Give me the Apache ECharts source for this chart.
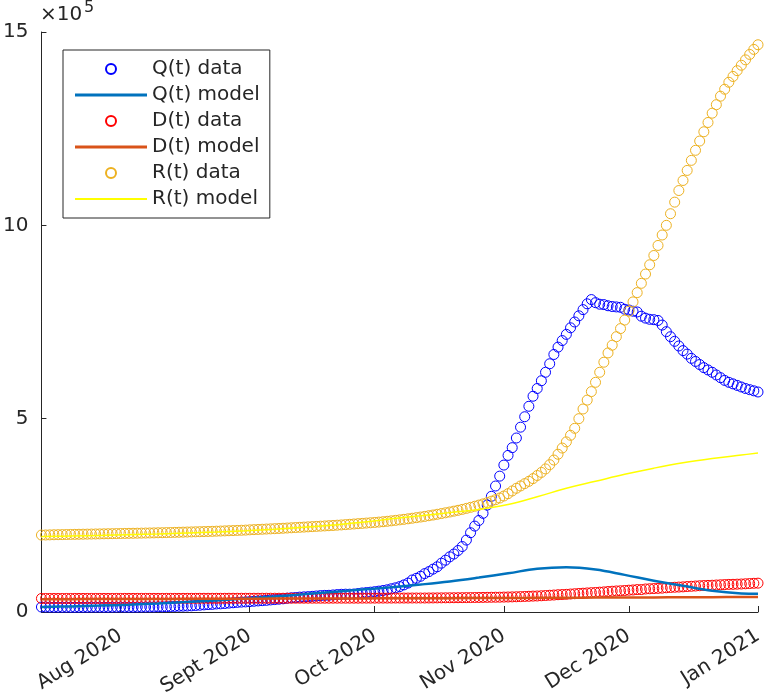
<!DOCTYPE html>
<html>
<head>
<meta charset="utf-8">
<script src="https://cdn.jsdelivr.net/npm/echarts@6/dist/echarts.min.js"></script>
<style>
html, body { margin: 0; padding: 0; background: #fff; }
#chart { width: 770px; height: 700px; }
</style>
</head>
<body>
<div id="chart"></div>
<script>
// daily values, 13 Jul 2020 .. 1 Jan 2021, in thousands of people
const startDate = '2020-07-13';

const qData = [
    12.9, 12.8, 12.5, 12.4, 12.4, 12.3, 12.4, 12.2, 12.2, 12.3, 12.3, 12.4, 12.5, 12.5, 12.5, 12.4, 12.4, 12.5, 12.6,
    12.6, 12.6, 12.5, 12.5, 12.6, 12.7, 12.8, 12.9, 13.0, 13.4, 13.4, 13.6, 14.1, 14.4, 14.9, 15.1, 15.4, 16.0, 16.8, 17.5,
    18.4, 19.2, 19.7, 20.8, 21.1, 21.9, 23.0, 23.9, 24.9, 25.6, 26.1,
    26.8, 27.8, 28.6, 29.4, 30.1, 31.2, 32.1, 33.1, 34.1, 35.7, 36.8, 37.5, 38.5, 39.2, 39.7, 40.5, 41.4, 42.5, 43.0, 43.2,
    44.1, 45.1, 45.8, 46.1, 46.1, 46.5, 47.7, 49.3, 50.3, 51.3,
    52.6, 54.0, 55.6, 57.4, 60.1, 62.6, 65.7, 70.1, 74.8, 82.8, 87.2, 92.4, 99.3, 104.4, 110.9, 116.9, 126.2, 134.0, 142.7, 150.0,
    159.0, 169.3, 186.0, 205.0, 222.2, 236.7, 255.1, 276.5, 299.2, 325.8, 351.4,
    380, 405, 425, 450, 478, 505, 532, 558, 578, 598, 620, 642, 666, 685, 702, 718, 735, 750, 766, 782,
    797, 808, 800, 796, 795, 792, 790, 789, 788, 783,
    781, 778, 776, 765, 760, 757, 756, 754, 742, 725, 712, 700, 688, 676, 667, 656, 648, 640, 632, 626,
    620, 613, 606, 599, 594, 590, 586, 582, 578, 575, 572,
    569
];

const dData = [
    35.0, 35.0, 35.0, 35.0, 35.0, 35.0, 35.0, 35.0, 35.1, 35.1, 35.1, 35.1, 35.1, 35.1, 35.1, 35.1, 35.1, 35.1, 35.1,
    35.1, 35.2, 35.2, 35.2, 35.2, 35.2, 35.2, 35.2, 35.2, 35.2, 35.2, 35.2, 35.2, 35.2, 35.2, 35.3, 35.3, 35.3, 35.3, 35.4,
    35.4, 35.4, 35.4, 35.4, 35.4, 35.4, 35.5, 35.5, 35.5, 35.5, 35.5,
    35.5, 35.5, 35.5, 35.6, 35.6, 35.6, 35.6, 35.6, 35.6, 35.7, 35.7, 35.7, 35.7, 35.7, 35.7, 35.7, 35.7, 35.7, 35.7, 35.7,
    35.8, 35.8, 35.8, 35.8, 35.8, 35.8, 35.8, 35.9, 35.9, 35.9,
    35.9, 36.0, 36.0, 36.0, 36.0, 36.1, 36.1, 36.1, 36.1, 36.2, 36.2, 36.2, 36.2, 36.3, 36.4, 36.5, 36.6, 36.7, 36.8, 36.9,
    37.0, 37.1, 37.2, 37.3, 37.5, 37.6, 37.8, 37.9, 38.1, 38.2, 38.3,
    38.6, 38.8, 39.1, 39.4, 39.8, 40.2, 40.6, 41.1, 41.4, 42.0, 42.6, 43.3, 43.9, 44.7, 45.2, 45.7, 46.5, 47.2, 47.9, 48.6,
    49.3, 50.0, 50.5, 51.3, 52.0, 52.9, 53.7, 54.4, 54.9, 55.6,
    56.4, 57.0, 58.0, 58.0, 59.5, 60.1, 60.6, 61.2, 61.7, 62.6, 63.4, 64.0, 64.5, 65.0, 65.9, 66.5, 67.2, 67.9, 68.4, 68.8,
    69.2, 69.8, 70.4, 70.9, 71.4, 71.6, 72.0, 72.4, 73.0, 73.6, 74.2,
    74.6
];

const rData = [
    199.0, 199.2, 199.5, 199.8, 200.0, 200.2, 200.4, 200.6, 200.8, 201.0, 201.2, 201.4, 201.6, 201.8, 202.0, 202.2, 202.4, 202.6, 202.8,
    203.0, 203.2, 203.4, 203.6, 203.8, 204.0, 204.2, 204.4, 204.6, 204.9, 205.1, 205.4, 205.6, 205.9, 206.2, 206.5, 206.8, 207.1, 207.4, 207.7,
    208.0, 208.3, 208.6, 209.0, 209.4, 209.8, 210.2, 210.6, 211.0, 211.4, 211.8,
    212.5, 213.0, 213.5, 214.0, 214.5, 215.0, 215.5, 216.0, 216.6, 217.2, 217.8, 218.4, 219.0, 219.6, 220.2, 220.8, 221.4, 222.0, 222.6, 223.2,
    223.8, 224.5, 225.2, 226.0, 226.8, 227.6, 228.4, 229.2, 230.0, 230.8,
    231.6, 232.5, 233.5, 234.6, 235.8, 237.0, 238.3, 239.6, 241.0, 242.5, 244.0, 245.6, 247.2, 249.0, 250.8, 252.7, 254.6, 256.6, 258.6,
    260.8, 263.0, 265.4, 268.0, 270.7, 273.5, 276.5, 279.6, 283.0, 286.6, 290.5, 294.8,
    300, 306, 313, 320, 326, 332, 338, 345, 353, 361, 370, 381, 393, 408, 424, 440, 457, 475, 500, 525,
    548, 570, 594, 620, 646, 670, 690, 712, 733, 755,
    778, 802, 826, 850, 874, 898, 922, 948, 975, 1000, 1030, 1060, 1090, 1116, 1142, 1168, 1194, 1218, 1242, 1266,
    1290, 1312, 1334, 1352, 1370, 1385, 1400, 1414, 1428, 1442, 1455,
    1467
];

// fitted model curves, one value per week (day offset from startDate)
const modelDays = [0, 7, 14, 21, 28, 35, 42, 49, 56, 63, 70, 77, 84, 91, 98, 105, 112, 119, 126, 133, 140, 147, 154, 161, 168, 172];
const qModel = [13, 14.5, 16.5, 19, 22, 26, 30, 35, 40, 46, 52, 58, 64, 71, 79, 89, 100, 112, 116, 110, 96, 81, 68, 55, 48, 47];
const dModel = [33.0, 33.2, 33.4, 33.6, 33.8, 34.0, 34.2, 34.4, 34.6, 34.8, 35.0, 35.2, 35.4, 35.6, 35.8, 36.0, 36.3, 36.6, 36.9, 37.2, 37.5, 37.8, 38.1, 38.4, 38.7, 38.9];
const rModel = [195, 196.5, 198, 200, 202, 204.5, 207, 210, 214, 219, 225, 232, 241, 249, 257, 265, 278, 298, 320, 338, 356, 372, 386, 397, 406, 411];

const tickDates = ['2020-08-01', '2020-09-01', '2020-10-01', '2020-11-01', '2020-12-01', '2021-01-01'];
const tickLabels = ['Aug 2020', 'Sept 2020', 'Oct 2020', 'Nov 2020', 'Dec 2020', 'Jan 2021'];
const yTickLabels = ['0', '5', '10', '15'];

// x is counted in days from startDate
const DAY = 86400000;
const t0 = Date.parse(startDate);
const tickDays = tickDates.map(d => Math.round((Date.parse(d) - t0) / DAY));

const axisColor = '#262626';
const fontFamily = 'DejaVu Sans';
const fontSize = 20;

function dataSeries(name, values, color) {
    return {
        name: name,
        type: 'scatter',
        data: values.map((v, i) => [i, v]),
        symbol: 'circle',
        symbolSize: 10,
        itemStyle: { color: 'rgba(0,0,0,0)', borderColor: color, borderWidth: 1, opacity: 1 },
        silent: true
    };
}
function modelSeries(name, values, color, width) {
    return {
        name: name,
        type: 'line',
        data: values.map((v, i) => [modelDays[i], v]),
        smooth: 0.4,
        showSymbol: false,
        symbol: 'none',
        color: color,
        lineStyle: { color: color, width: width },
        silent: true
    };
}

const myChart = echarts.init(document.getElementById('chart'));
const option = {
    animation: false,
    backgroundColor: '#fff',
    textStyle: { fontFamily: fontFamily },
    grid: { left: 39, right: 12, top: 32, bottom: 88, containLabel: false },
    legend: {
        orient: 'vertical',
        left: 63,
        top: 50,
        padding: [9, 10, 9, 12],
        itemWidth: 72,
        itemHeight: 10,
        itemGap: 6,
        borderColor: axisColor,
        borderWidth: 1,
        backgroundColor: '#fff',
        textStyle: { fontSize: fontSize, lineHeight: 20, color: axisColor, fontFamily: fontFamily },
        data: [
            { name: 'Q(t) data' },
            { name: 'Q(t) model', icon: 'path://M0,0H72V3H0Z' },
            { name: 'D(t) data' },
            { name: 'D(t) model', icon: 'path://M0,0H72V3H0Z' },
            { name: 'R(t) data' },
            { name: 'R(t) model', icon: 'path://M0,0H72V2H0Z' }
        ]
    },
    graphic: [
        { type: 'text', left: 40, top: 5, style: { text: '×10', fontSize: fontSize, fill: axisColor, fontFamily: fontFamily } },
        { type: 'text', left: 84, top: 0, style: { text: '5', fontSize: 16, fill: axisColor, fontFamily: fontFamily } }
    ],
    xAxis: {
        type: 'value',
        min: 0,
        max: tickDays[tickDays.length - 1],
        splitLine: { show: false },
        axisLine: { lineStyle: { color: axisColor, width: 1 } },
        axisTick: { inside: true, length: 6, customValues: tickDays, lineStyle: { color: axisColor } },
        axisLabel: {
            customValues: tickDays,
            rotate: 32,
            margin: 22,
            fontSize: fontSize,
            color: axisColor,
            fontFamily: fontFamily,
            formatter: v => tickLabels[tickDays.indexOf(Math.round(v))] || ''
        }
    },
    yAxis: {
        type: 'value',
        min: 0,
        max: 1500,
        interval: 500,
        splitLine: { show: false },
        axisLine: { show: true, lineStyle: { color: axisColor, width: 1 } },
        axisTick: { show: true, inside: true, length: 5, lineStyle: { color: axisColor } },
        axisLabel: {
            margin: 13,
            fontSize: fontSize,
            color: axisColor,
            fontFamily: fontFamily,
            formatter: v => yTickLabels[Math.round(v / 500)]
        }
    },
    series: [
        dataSeries('Q(t) data', qData, '#0000FF'),
        modelSeries('Q(t) model', qModel, '#0072BD', 2.5),
        dataSeries('D(t) data', dData, '#FF0000'),
        modelSeries('D(t) model', dModel, '#D95319', 2.5),
        dataSeries('R(t) data', rData, '#EDB120'),
        modelSeries('R(t) model', rModel, '#FFFF00', 1.5)
    ]
};
myChart.setOption(option);
</script>
</body>
</html>
